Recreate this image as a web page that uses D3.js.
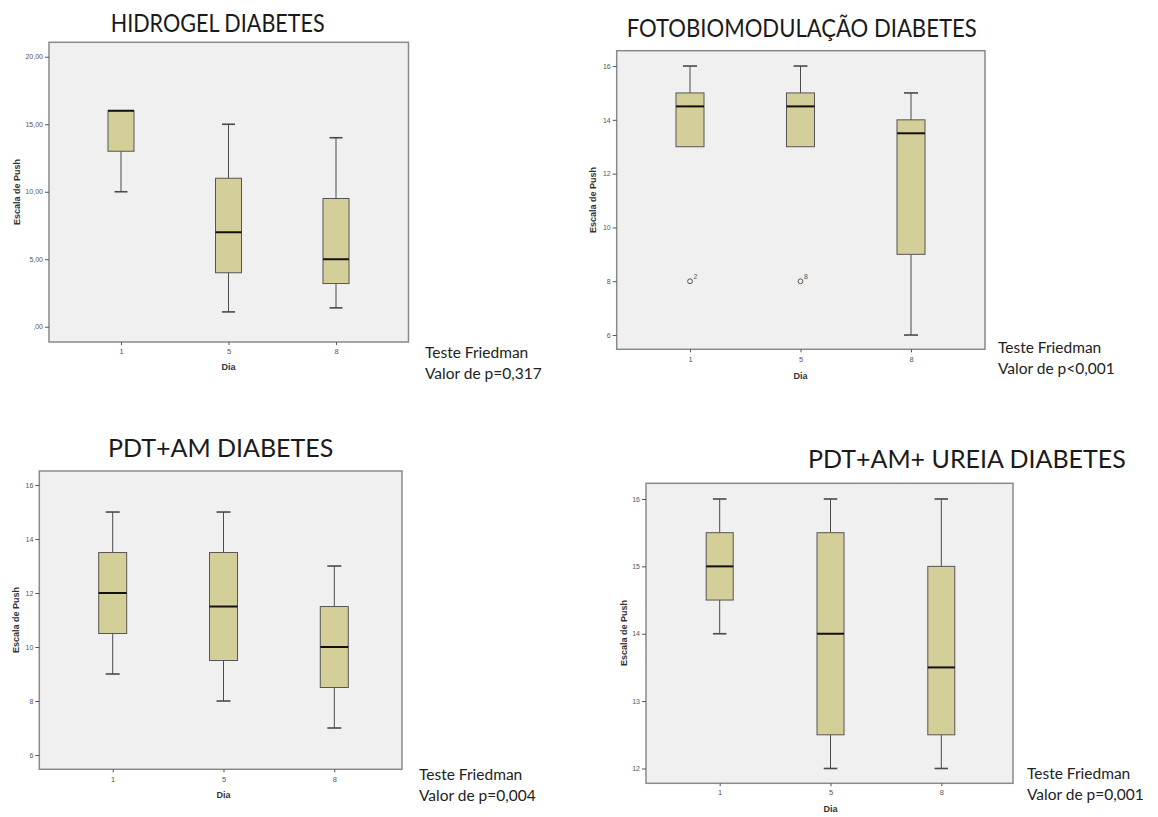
<!DOCTYPE html>
<html>
<head>
<meta charset="utf-8">
<script src="https://cdn.jsdelivr.net/npm/d3@7"></script>
<style>
  html, body { margin: 0; padding: 0; background: #ffffff; }
  svg { display: block; }
</style>
</head>
<body>
<svg id="chart" width="1158" height="817"></svg>
<script>
// ---------------- DATA ----------------
const days = ["1", "5", "8"];

// five-number summaries per day: [min, q1, median, q3, max]
const hidrogelStats = [[10, 13, 16, 16, 16], [1.1, 4, 7, 11, 15], [1.4, 3.2, 5, 9.5, 14]];
const fotoStats     = [[13, 13, 14.5, 15, 16], [13, 13, 14.5, 15, 16], [6, 9, 13.5, 14, 15]];
const pdtStats      = [[9, 10.5, 12, 13.5, 15], [8, 9.5, 11.5, 13.5, 15], [7, 8.5, 10, 11.5, 13]];
const ureiaStats    = [[14, 14.5, 15, 15.5, 16], [12, 12.5, 14, 15.5, 16], [12, 12.5, 13.5, 15, 16]];

// outliers (day, value, case label)
const fotoOutlierDays   = ["1", "5"];
const fotoOutlierValues = [8, 8];
const fotoOutlierLabels = ["2", "8"];

// tick values
const hidrogelTicks = [0, 5, 10, 15, 20];
const fotoTicks     = [6, 8, 10, 12, 14, 16];
const pdtTicks      = [6, 8, 10, 12, 14, 16];
const ureiaTicks    = [12, 13, 14, 15, 16];

// titles & notes
const titles = ["HIDROGEL DIABETES", "FOTOBIOMODULAÇÃO DIABETES", "PDT+AM DIABETES", "PDT+AM+ UREIA DIABETES"];
const noteLine1 = "Teste Friedman";
const pValues = ["Valor de p=0,317", "Valor de p<0,001", "Valor de p=0,004", "Valor de p=0,001"];

// ---------------- LAYOUT ----------------
const panels = [
  { stats: hidrogelStats, ticks: hidrogelTicks, fmt: v => (v === 0 ? ",00" : d3.format(".2f")(v).replace(".", ",")),
    frame: { x0: 49, x1: 408.5, y0: 42.3, y1: 342 }, yDom: [-1.13, 21.07], xr: [121, 336], bw: 26,
    title: { x: 110.7, y: 31.5, len: 214 }, note: { x: 425, y: 358 },
    ylab: { x: 18, y: 192 }, dia: { y: 370 }, xlabY: 354 },
  { stats: fotoStats, ticks: fotoTicks, fmt: d3.format("d"),
    frame: { x0: 616.7, x1: 985, y0: 50.7, y1: 349.3 }, yDom: [5.47, 16.57], xr: [690, 911], bw: 28,
    title: { x: 626.7, y: 36.5, len: 350 }, note: { x: 998, y: 353 },
    ylab: { x: 594, y: 200 }, dia: { y: 379 }, xlabY: 362, outliers: true },
  { stats: pdtStats, ticks: pdtTicks, fmt: d3.format("d"),
    frame: { x0: 39.3, x1: 402, y0: 471, y1: 769.3 }, yDom: [5.47, 16.52], xr: [112.7, 334.3], bw: 28,
    title: { x: 108, y: 457, len: null }, note: { x: 419, y: 780 },
    ylab: { x: 17, y: 620 }, dia: { y: 798 }, xlabY: 782 },
  { stats: ureiaStats, ticks: ureiaTicks, fmt: d3.format("d"),
    frame: { x0: 646, x1: 1013, y0: 483.3, y1: 783.3 }, yDom: [11.78, 16.233], xr: [719.7, 941.3], bw: 27,
    title: { x: 808, y: 468, len: null }, note: { x: 1027, y: 779 },
    ylab: { x: 625, y: 633 }, dia: { y: 812 }, xlabY: 795 }
];

const svg = d3.select("#chart");
const BOX_FILL = "#d4cf98";
const LINE = "#4a4a4a";

panels.forEach((p, i) => {
  const g = svg.append("g");
  const f = p.frame;
  const y = d3.scaleLinear().domain(p.yDom).range([f.y1, f.y0]);
  const x = d3.scalePoint().domain(days).range(p.xr);

  // title
  const t = g.append("text")
    .attr("x", p.title.x).attr("y", p.title.y)
    .attr("font-family", "Lato, 'Open Sans', sans-serif")
    .attr("font-size", 25).attr("fill", "#1a1a1a")
    .text(titles[i]);
  if (p.title.len) t.attr("textLength", p.title.len).attr("lengthAdjust", "spacingAndGlyphs");

  // plot background/frame
  g.append("rect")
    .attr("x", f.x0).attr("y", f.y0)
    .attr("width", f.x1 - f.x0).attr("height", f.y1 - f.y0)
    .attr("fill", "#f0f0f0").attr("stroke", "#8a8a8a").attr("stroke-width", 1.5);

  // y axis
  const ya = g.append("g").attr("transform", `translate(${f.x0},0)`)
    .call(d3.axisLeft(y).tickValues(p.ticks).tickSize(4).tickPadding(2).tickFormat(p.fmt));
  ya.select(".domain").remove();
  ya.selectAll(".tick line").attr("stroke", "#555");
  ya.selectAll(".tick text").attr("font-family", "'Liberation Sans', Arial, sans-serif")
    .attr("font-size", 7).attr("fill", "#555");

  // x axis
  const xa = g.append("g").attr("transform", `translate(0,${f.y1})`)
    .call(d3.axisBottom(x).tickSize(3).tickPadding(3));
  xa.select(".domain").remove();
  xa.selectAll(".tick line").attr("stroke", "#555");
  xa.selectAll(".tick text").attr("font-family", "'Liberation Sans', Arial, sans-serif")
    .attr("font-size", 7.5).attr("fill", "#555").attr("dy", null)
    .attr("y", p.xlabY - f.y1);

  // axis titles
  g.append("text")
    .attr("transform", `translate(${p.ylab.x},${p.ylab.y}) rotate(-90)`)
    .attr("text-anchor", "middle").attr("dominant-baseline", "middle")
    .attr("font-family", "'Liberation Sans', Arial, sans-serif")
    .attr("font-size", 9).attr("font-weight", "bold").attr("fill", "#333")
    .text("Escala de Push");
  g.append("text")
    .attr("x", x("5")).attr("y", p.dia.y)
    .attr("text-anchor", "middle")
    .attr("font-family", "'Liberation Sans', Arial, sans-serif")
    .attr("font-size", 9).attr("font-weight", "bold").attr("fill", "#333")
    .text("Dia");

  // boxes
  const bw = p.bw, cw = bw / 2;
  p.stats.forEach((s, j) => {
    const cx = x(days[j]);
    const [mn, q1, md, q3, mx] = s;
    const bg = g.append("g");
    // whiskers
    if (mn < q1) {
      bg.append("line").attr("x1", cx).attr("x2", cx).attr("y1", y(mn)).attr("y2", y(q1))
        .attr("stroke", LINE).attr("stroke-width", 1);
      bg.append("line").attr("x1", cx - cw / 2).attr("x2", cx + cw / 2).attr("y1", y(mn)).attr("y2", y(mn))
        .attr("stroke", LINE).attr("stroke-width", 1.6);
    }
    if (mx > q3) {
      bg.append("line").attr("x1", cx).attr("x2", cx).attr("y1", y(q3)).attr("y2", y(mx))
        .attr("stroke", LINE).attr("stroke-width", 1);
      bg.append("line").attr("x1", cx - cw / 2).attr("x2", cx + cw / 2).attr("y1", y(mx)).attr("y2", y(mx))
        .attr("stroke", LINE).attr("stroke-width", 1.6);
    }
    // box
    bg.append("rect")
      .attr("x", cx - bw / 2).attr("y", y(q3))
      .attr("width", bw).attr("height", Math.max(0, y(q1) - y(q3)))
      .attr("fill", BOX_FILL).attr("stroke", "#555").attr("stroke-width", 1);
    // median
    bg.append("line").attr("x1", cx - bw / 2).attr("x2", cx + bw / 2).attr("y1", y(md)).attr("y2", y(md))
      .attr("stroke", "#111").attr("stroke-width", 2);
  });

  // outliers
  if (p.outliers) {
    fotoOutlierDays.forEach((d, k) => {
      const cx = x(d), cy = y(fotoOutlierValues[k]);
      g.append("circle").attr("cx", cx).attr("cy", cy).attr("r", 2.4)
        .attr("fill", "none").attr("stroke", "#555").attr("stroke-width", 1);
      g.append("text").attr("x", cx + 3.5).attr("y", cy - 2)
        .attr("font-family", "'Liberation Sans', Arial, sans-serif")
        .attr("font-size", 7).attr("fill", "#555")
        .text(fotoOutlierLabels[k]);
    });
  }

  // notes
  const nt = g.append("text")
    .attr("font-family", "Lato, 'Open Sans', sans-serif")
    .attr("font-size", 15.5).attr("fill", "#222");
  nt.append("tspan").attr("x", p.note.x).attr("y", p.note.y).text(noteLine1);
  nt.append("tspan").attr("x", p.note.x).attr("y", p.note.y + 21).text(pValues[i]);
});
</script>
</body>
</html>
